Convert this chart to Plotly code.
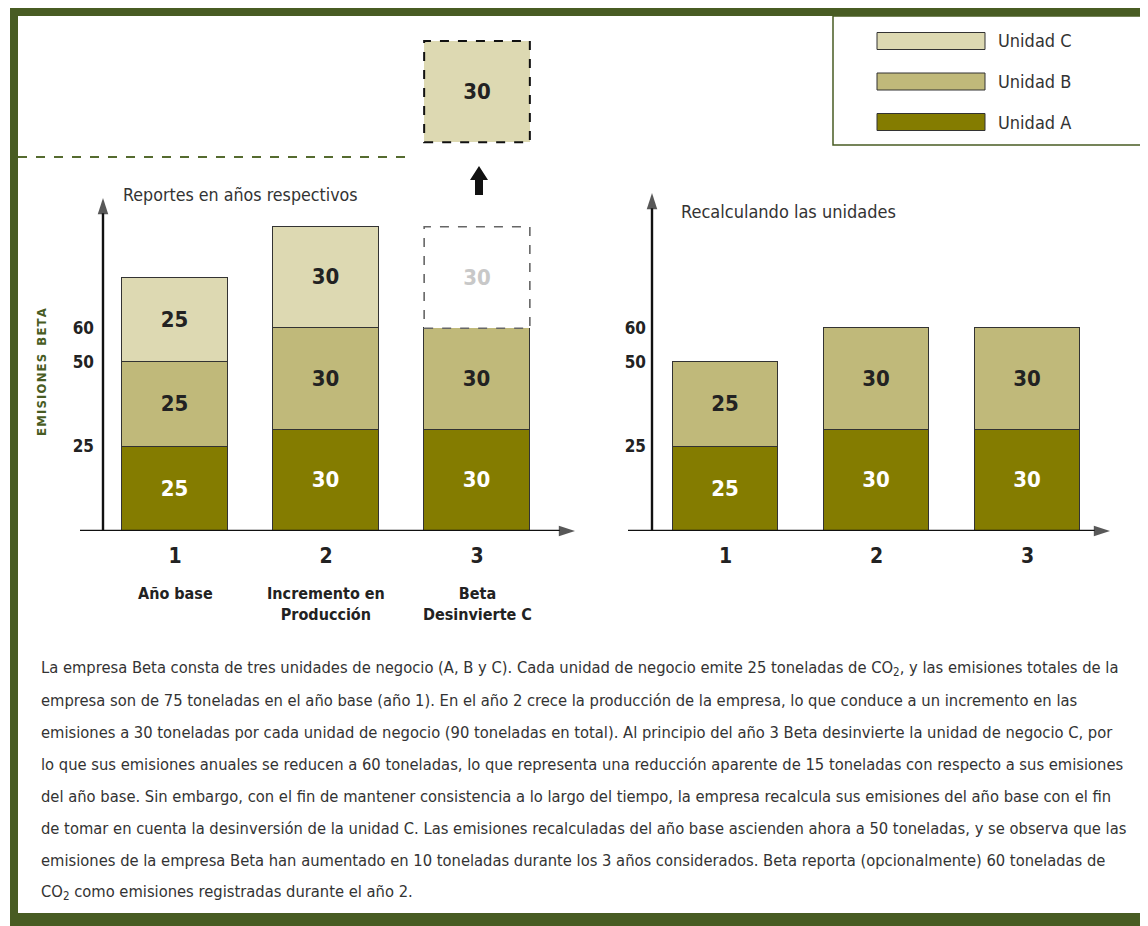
import plotly.graph_objects as go

# ---------------------------------------------------------------- data
CATS = [1, 2, 3]
CAT_NUMS = ["1", "2", "3"]
CAT_SUBS = ["Año base", "Incremento en<br>Producción", "Beta<br>Desinvierte C"]

REP_A = [25, 30, 30]          # reportes en años respectivos
REP_B = [25, 30, 30]
REP_C = [25, 30, None]
REP_C_GHOST = [None, None, 30]  # unidad C desinvertida (año 3)
MOVED_C = [30]                  # caja trasladada fuera del límite
MOVED_CAT = [3]

REC_A = [25, 30, 30]          # recalculando las unidades
REC_B = [25, 30, 30]

Y_TICKS = [25, 50, 60]

LEGEND_NAMES = ["Unidad C", "Unidad B", "Unidad A"]

BODY = [
    "La empresa Beta consta de tres unidades de negocio (A, B y C). Cada unidad de negocio emite 25 toneladas de CO<sub>2</sub>, y las emisiones totales de la",
    "empresa son de 75 toneladas en el año base (año 1). En el año 2 crece la producción de la empresa, lo que conduce a un incremento en las",
    "emisiones a 30 toneladas por cada unidad de negocio (90 toneladas en total). Al principio del año 3 Beta desinvierte la unidad de negocio C, por",
    "lo que sus emisiones anuales se reducen a 60 toneladas, lo que representa una reducción aparente de 15 toneladas con respecto a sus emisiones",
    "del año base. Sin embargo, con el fin de mantener consistencia a lo largo del tiempo, la empresa recalcula sus emisiones del año base con el fin",
    "de tomar en cuenta la desinversión de la unidad C. Las emisiones recalculadas del año base ascienden ahora a 50 toneladas, y se observa que las",
    "emisiones de la empresa Beta han aumentado en 10 toneladas durante los 3 años considerados. Beta reporta (opcionalmente) 60 toneladas de",
    "CO<sub>2</sub> como emisiones registradas durante el año 2.",
]

# ---------------------------------------------------------------- style
# page body has an 8px margin, so the figure is smaller and all pixel
# positions below are page pixels shifted back by that offset
OFF = 8
W, H = 1140, 918
GREEN = "#485c23"
COL_A, COL_B, COL_C = "#847c00", "#c0b97a", "#ddd9b2"
EDGE = "#333333"
COND = "DejaVu Sans Condensed, sans-serif"
BW = 0.70
PXU = 3.38            # pixels per tonne
BASE_PX = 531
TOP_PX = 16
MOVED_BASE = 115


def px(x):
    return (x - OFF) / W


def py(y):
    return 1 - (y - OFF) / H


def xrange(c1, s, a, b):
    return [1 - (c1 - a) / s, 1 + (b - c1) / s]


def bar(x, y, color, txt, xa="x", ya="y", base=None, line=True):
    return go.Bar(x=x, y=y, base=base, width=BW, marker_color=color,
                  marker_line=dict(color=EDGE, width=1.2 if line else 0),
                  texttemplate="<b>%{y}</b>", textposition="inside",
                  insidetextanchor="middle", textangle=0, constraintext="none",
                  textfont=dict(family=COND, size=22, color=txt),
                  xaxis=xa, yaxis=ya, showlegend=False, hoverinfo="skip")


def axis_arrow(x, y, xa, ya):
    return go.Scatter(x=x, y=y, mode="lines+markers", xaxis=xa, yaxis=ya,
                      line=dict(color="#111", width=2.4), cliponaxis=False,
                      marker=dict(symbol=["circle", "arrow"], size=[0, 17], color="#111",
                                  angleref="previous", line_width=0),
                      showlegend=False, hoverinfo="skip")


XR1 = xrange(175, 151, 80, 575)
XR2 = xrange(725.5, 151, 628, 1110)
YAX1 = 1 - (175 - 103) / 151
YAX2 = 1 - (725.5 - 652) / 151

fig = go.Figure()
fig.add_trace(bar(CATS, REP_A, COL_A, "white"))
fig.add_trace(bar(CATS, REP_B, COL_B, "#222"))
fig.add_trace(bar(CATS, REP_C, COL_C, "#222"))
fig.add_trace(bar(CATS, REP_C_GHOST, "white", "#c8c8c8", line=False))
fig.add_trace(bar(MOVED_CAT, MOVED_C, COL_C, "#222", base=[MOVED_BASE], line=False))
fig.add_trace(bar(CATS, REC_A, COL_A, "white", "x2", "y2"))
fig.add_trace(bar(CATS, REC_B, COL_B, "#222", "x2", "y2"))
fig.add_trace(axis_arrow(XR1, [0, 0], "x", "y"))
fig.add_trace(axis_arrow([YAX1, YAX1], [0, 98.5], "x", "y"))
fig.add_trace(axis_arrow(XR2, [0, 0], "x2", "y2"))
fig.add_trace(axis_arrow([YAX2, YAX2], [0, 100], "x2", "y2"))

yr = [0, (BASE_PX - TOP_PX) / PXU]
ydom = [py(BASE_PX), py(TOP_PX)]
ax_common = dict(showgrid=False, zeroline=False, showline=False, ticks="", fixedrange=True)
tickfont_y = dict(family=COND, size=17, color="#222")
tickfont_x = dict(family=COND, size=21, color="#222")

fig.update_layout(
    width=W, height=H, margin=dict(l=0, r=0, t=0, b=0),
    paper_bgcolor="white", plot_bgcolor="rgba(0,0,0,0)",
    barmode="stack", bargap=0, showlegend=False,
    xaxis=dict(domain=[px(80), px(575)], range=XR1, anchor="y",
               tickvals=CATS, ticktext=[f"<b>{t}</b>" for t in CAT_NUMS],
               tickfont=tickfont_x, ticklabelstandoff=10, **ax_common),
    yaxis=dict(domain=ydom, range=yr, anchor="free", position=px(103),
               tickvals=Y_TICKS, ticktext=[f"<b>{t}</b>" for t in Y_TICKS],
               tickfont=tickfont_y, ticklabelstandoff=9, **ax_common),
    xaxis2=dict(domain=[px(628), px(1110)], range=XR2, anchor="y2",
                tickvals=CATS, ticktext=[f"<b>{t}</b>" for t in CAT_NUMS],
                tickfont=tickfont_x, ticklabelstandoff=10, **ax_common),
    yaxis2=dict(domain=ydom, range=yr, anchor="free", position=px(652),
                tickvals=Y_TICKS, ticktext=[f"<b>{t}</b>" for t in Y_TICKS],
                tickfont=tickfont_y, ticklabelstandoff=6, **ax_common),
)

shapes = []
# frame
shapes.append(dict(type="rect", xref="paper", yref="paper", x0=px(10), x1=px(1149), y0=py(927), y1=py(8),
                   fillcolor=GREEN, line_width=0, layer="below"))
shapes.append(dict(type="rect", xref="paper", yref="paper", x0=px(18), x1=px(1143), y0=py(913), y1=py(16),
                   fillcolor="white", line_width=0, layer="below"))
# legend box
shapes.append(dict(type="rect", xref="paper", yref="paper", x0=px(833), x1=px(1143), y0=py(145), y1=py(16),
                   fillcolor="white", line=dict(color=GREEN, width=1.5), layer="below"))
for i, (name, col) in enumerate(zip(LEGEND_NAMES, [COL_C, COL_B, COL_A])):
    yc = 41 + 40.5 * i
    shapes.append(dict(type="rect", xref="paper", yref="paper", x0=px(877), x1=px(985),
                       y0=py(yc + 8.5), y1=py(yc - 8.5), fillcolor=col,
                       line=dict(color=EDGE, width=1)))
    fig.add_annotation(x=px(996), y=py(yc), xref="paper", yref="paper", text=name,
                       showarrow=False, xanchor="left", yanchor="middle",
                       font=dict(family=COND, size=18, color="#333"))
# dashed boundary line
shapes.append(dict(type="line", xref="paper", yref="paper", x0=px(18), x1=px(408), y0=py(157), y1=py(157),
                   line=dict(color="#556b2f", width=2, dash="dash")))
# dashed outlines of divested / moved unit C
gx = MOVED_CAT[0]
g0 = REP_A[2] + REP_B[2]
shapes.append(dict(type="rect", xref="x", yref="y", x0=gx - BW / 2, x1=gx + BW / 2,
                   y0=g0, y1=g0 + REP_C_GHOST[2], line=dict(color="#666", width=1.6, dash="dash")))
shapes.append(dict(type="rect", xref="x", yref="y", x0=gx - BW / 2, x1=gx + BW / 2,
                   y0=MOVED_BASE, y1=MOVED_BASE + MOVED_C[0], line=dict(color="#111", width=2, dash="dash")))
# block arrow up
pts = [(475, 195), (483, 195), (483, 180), (488, 180), (479, 166), (470, 180), (475, 180)]
path = "M " + " L ".join(f"{px(x)},{py(y)}" for x, y in pts) + " Z"
shapes.append(dict(type="path", xref="paper", yref="paper", path=path, fillcolor="#111", line_width=0))
fig.update_layout(shapes=shapes)

# category subtitles (left chart)
for c, sub in zip(CATS, CAT_SUBS):
    fig.add_annotation(x=c, y=py(582), xref="x", yref="paper", text=f"<b>{sub}</b>",
                       showarrow=False, yanchor="top", align="center",
                       font=dict(family=COND, size=16, color="#222"))

# panel titles
fig.add_annotation(x=px(121), y=py(195), xref="paper", yref="paper", text="Reportes en años respectivos",
                   showarrow=False, xanchor="left", yanchor="middle",
                   font=dict(family=COND, size=17.7, color="#333"))
fig.add_annotation(x=px(679), y=py(211), xref="paper", yref="paper", text="Recalculando las unidades",
                   showarrow=False, xanchor="left", yanchor="middle",
                   font=dict(family=COND, size=18, color="#333"))

# vertical axis title
fig.add_annotation(x=px(41), y=py(372), xref="paper", yref="paper",
                   text="<b>" + "\u200a".join("EMISIONES\u2002BETA") + "</b>",
                   showarrow=False, textangle=-90, xanchor="center", yanchor="middle",
                   font=dict(family=COND, size=13, color=GREEN))

# explanatory paragraph
for i, line in enumerate(BODY):
    fig.add_annotation(x=px(39), y=py(668 + 32.1 * i), xref="paper", yref="paper", text=line,
                       showarrow=False, xanchor="left", yanchor="middle",
                       font=dict(family=COND, size=16.4, color="#333"))

fig.write_html("out.html")
